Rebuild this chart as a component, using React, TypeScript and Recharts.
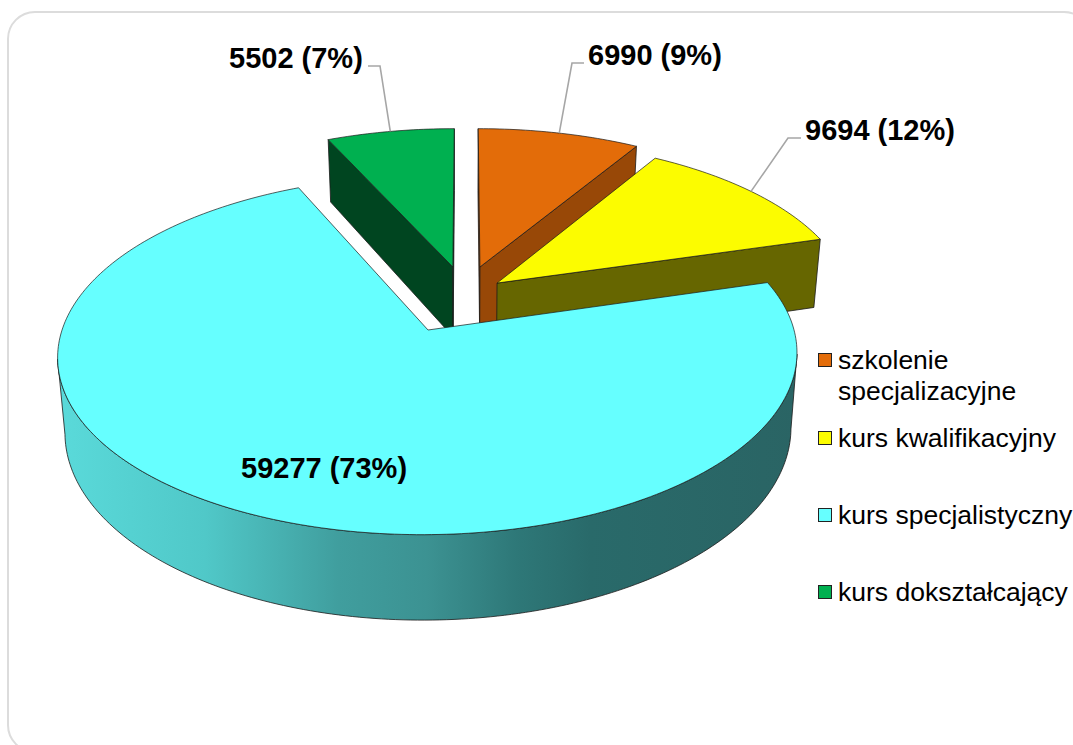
import React from "react";
import { PieChart, Pie, Legend } from "recharts";

// ---- data ----
const categories = ["kurs dokształcający", "szkolenie specjalizacyjne", "kurs kwalifikacyjny", "kurs specjalistyczny"];
const values = [5502, 6990, 9694, 59277];
const legendOrder = ["szkolenie specjalizacyjne", "kurs kwalifikacyjny", "kurs specjalistyczny", "kurs dokształcający"];

// ---- styles ----
const topColors = ["#00b050", "#e36c09", "#fcfc00", "#66ffff"];
const cutColors = ["#004520", "#984807", "#666600", "#2a6464"];
// explosion offset (plane units) and radius of each slice
const offsets = [
  { a: -0.035, b: 0.377, r: 0.985 },
  { a: 0.043, b: 0.377, r: 0.985 },
  { a: 0.091, b: 0.277, r: 0.995 },
  { a: -0.101, b: 0, r: 1 },
];
const labelSpots = [
  { x: 229, y: 68, elbow: [380, 66], end: [368, 66] },
  { x: 588, y: 65, elbow: [572, 63], end: [584, 63] },
  { x: 805, y: 140, elbow: [788, 138], end: [801, 138] },
  { x: 241, y: 478 },
];
const legendTops = [345, 423, 500, 577];
const total = values.reduce((s, v) => s + v, 0);
const startOffset = (360 * values[0]) / total;
const tableData = categories.map((name, i) => ({ name, value: values[i], fill: topColors[i] }));

// ---- 3D projection helpers ----
const K = 0.14;
const project = (cx: number, cy: number, o: number, a: number, b: number, h: number) => {
  const R = 3.66 * o;
  const S = 1.76 * o;
  const D = 0.735 * o;
  const w = 1 + K * b;
  return {
    x: cx + ((R * a) / w) * (1 - h * 0.018),
    y: cy - (S * b) / w + (D * h) / w,
  };
};
type P = { x: number; y: number };
const toPath = (pts: P[]) =>
  pts.map((p, i) => `${i ? "L" : "M"}${p.x.toFixed(2)} ${p.y.toFixed(2)}`).join(" ") + " Z";
const crossDown = (p: P, q: P) => q.x - p.x;
const crossC = (p: P, q: P, c: P) => (q.x - p.x) * (c.y - p.y) - (q.y - p.y) * (c.x - p.x);
const visible = (p: P, q: P, c: P) => crossDown(p, q) * crossC(p, q, c) < 0;

const Slice3D = (props: any) => {
  const { cx, cy, outerRadius, startAngle, endAngle, name } = props;
  const i = categories.indexOf(name);
  const off = offsets[i];
  const t0 = 90 - startAngle;
  const t1 = 90 - endAngle;
  const n = Math.max(4, Math.ceil(Math.abs(t1 - t0)));
  const at = (t: number, h: number) => {
    const rad = (t * Math.PI) / 180;
    return project(cx, cy, outerRadius, off.a + off.r * Math.sin(rad), off.b + off.r * Math.cos(rad), h);
  };
  const arcTop: P[] = [];
  const arcLow: P[] = [];
  for (let k = 0; k <= n; k++) {
    const t = t0 + ((t1 - t0) * k) / n;
    arcTop.push(at(t, 0));
    arcLow.push(at(t, 1));
  }
  const apexTop = project(cx, cy, outerRadius, off.a, off.b, 0);
  const apexLow = project(cx, cy, outerRadius, off.a, off.b, 1);
  const mid = arcTop[Math.floor(n / 2)];
  const stroke = "#1a1a1a";
  const faces: React.ReactNode[] = [];
  if (visible(apexTop, arcTop[0], mid)) {
    faces.push(<path key="c0" d={toPath([apexTop, arcTop[0], arcLow[0], apexLow])} fill={cutColors[i]} stroke={stroke} strokeWidth={0.8} strokeLinejoin="round" />);
  }
  if (visible(apexTop, arcTop[n], mid)) {
    faces.push(<path key="c1" d={toPath([apexTop, arcTop[n], arcLow[n], apexLow])} fill={cutColors[i]} stroke={stroke} strokeWidth={0.8} strokeLinejoin="round" />);
  }
  let run: number[] = [];
  const runs: number[][] = [];
  for (let k = 0; k < n; k++) {
    if (visible(arcTop[k], arcTop[k + 1], apexTop)) {
      run.push(k);
    } else if (run.length) {
      runs.push(run);
      run = [];
    }
  }
  if (run.length) runs.push(run);
  runs.forEach((r, ri) => {
    const first = r[0];
    const last = r[r.length - 1] + 1;
    const pts = [...arcTop.slice(first, last + 1), ...arcLow.slice(first, last + 1).reverse()];
    faces.push(<path key={`s${ri}`} d={toPath(pts)} fill={i === 3 ? "url(#sideGrad)" : cutColors[i]} stroke={stroke} strokeWidth={0.8} strokeLinejoin="round" />);
  });
  return (
    <g>
      {faces}
      <path d={toPath([apexTop, ...arcTop])} fill={topColors[i]} stroke={stroke} strokeWidth={0.7} strokeLinejoin="round" />
    </g>
  );
};

const SliceLabel = (props: any) => {
  const { cx, cy, outerRadius, midAngle, value, name } = props;
  const i = categories.indexOf(name);
  const spot = labelSpots[i];
  const off = offsets[i];
  const rad = ((90 - midAngle) * Math.PI) / 180;
  const start = project(cx, cy, outerRadius, off.a + off.r * Math.sin(rad), off.b + off.r * Math.cos(rad), 0);
  const pct = Math.round((100 * value) / total);
  return (
    <g>
      {spot.elbow && spot.end ? (
        <polyline
          points={`${start.x},${start.y} ${spot.elbow[0]},${spot.elbow[1]} ${spot.end[0]},${spot.end[1]}`}
          fill="none"
          stroke="#a6a6a6"
          strokeWidth={1.6}
        />
      ) : null}
      <text x={spot.x} y={spot.y} fontFamily="'Liberation Sans', Arial, sans-serif" fontWeight={700} fontSize={29} fill="#000">
        {`${value} (${pct}%)`}
      </text>
    </g>
  );
};

const LegendBox = (props: any) => {
  const items: any[] = props.payload || [];
  return (
    <div style={{ position: "relative", width: 255, height: 290 }}>
      {legendOrder.map((nm, i) => {
        const it = items.find((p) => p.value === nm);
        return (
          <div key={nm} style={{ position: "absolute", left: 0, top: legendTops[i] - 345, width: 255 }}>
            <span
              style={{
                position: "absolute",
                left: 0,
                top: 8,
                width: 12,
                height: 12,
                background: it ? it.color : topColors[categories.indexOf(nm)],
                border: "1.2px solid #222",
              }}
            />
            <div
              style={{
                marginLeft: 20,
                width: 210,
                fontFamily: "'Liberation Sans', Arial, sans-serif",
                fontSize: 26.5,
                lineHeight: "31px",
                color: "#000",
                whiteSpace: i === 0 ? "normal" : "nowrap",
              }}
            >
              {nm}
            </div>
          </div>
        );
      })}
    </div>
  );
};

export default function App() {
  return (
    <div style={{ position: "absolute", left: 0, top: 0, width: 1073, height: 745, overflow: "hidden", background: "#fff" }}>
      <div
        style={{
          position: "absolute",
          left: 7,
          top: 11,
          width: 1085,
          height: 742,
          border: "2px solid #dcdcdc",
          borderRadius: 28,
          boxSizing: "border-box",
        }}
      />
      <div style={{ position: "absolute", left: 0, top: 0 }}>
        <PieChart width={1073} height={745} margin={{ top: 0, right: 0, bottom: 0, left: 0 }}>
          <defs>
            <linearGradient id="sideGrad" gradientUnits="userSpaceOnUse" x1={57} x2={798} y1={0} y2={0}>
              <stop offset="0" stopColor="#5adada" />
              <stop offset="0.2" stopColor="#50c8c8" />
              <stop offset="0.38" stopColor="#409e9e" />
              <stop offset="0.5" stopColor="#3c9292" />
              <stop offset="0.62" stopColor="#2e7878" />
              <stop offset="0.72" stopColor="#296a6a" />
              <stop offset="1" stopColor="#2a6464" />
            </linearGradient>
          </defs>
          <Pie
            data={tableData}
            dataKey="value"
            nameKey="name"
            cx={465}
            cy={330}
            outerRadius={100}
            innerRadius={0}
            startAngle={90 + startOffset}
            endAngle={90 + startOffset - 360}
            stroke="none"
            isAnimationActive={false}
            shape={Slice3D}
            label={SliceLabel}
            labelLine={false}
          />
          <Legend
            content={LegendBox}
            wrapperStyle={{ position: "absolute", left: 818, top: 345, width: 255, height: 290 }}
          />
        </PieChart>
      </div>
    </div>
  );
}
